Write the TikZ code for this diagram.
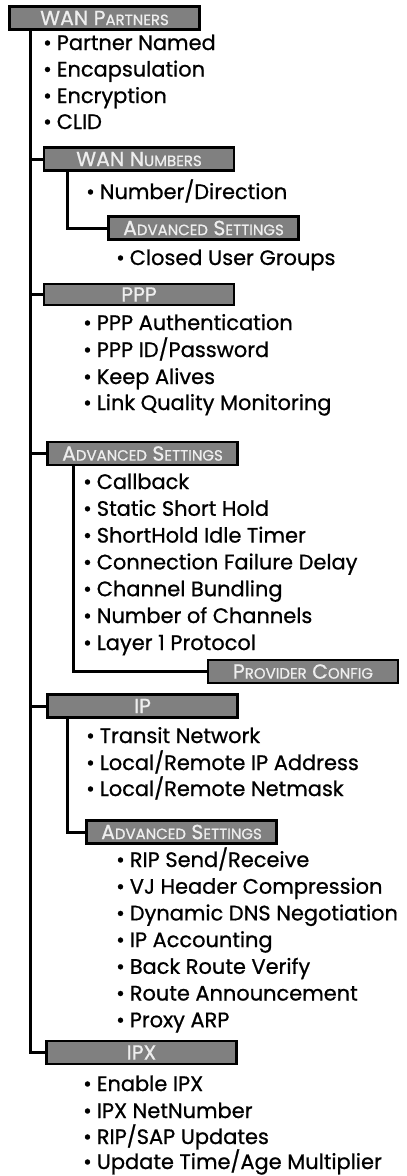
\documentclass[tikz,border=0pt]{standalone}
\usepackage{fontspec}
\setmainfont{Poppins}[FakeBold=0.8]
\definecolor{boxgray}{HTML}{808080}
\definecolor{headtxt}{HTML}{EEEEEE}
\newcommand{\sck}[1]{{\fontsize{15}{15}\selectfont #1}}
\tikzset{
  conn/.style={line width=3bp, black},
  hbox/.style={draw=black, line width=2.6bp, fill=boxgray, minimum width=190bp, minimum height=23bp, inner sep=0pt, text=headtxt, font=\fontsize{20.5}{20.5}\selectfont},
  item/.style={anchor=base west, inner sep=0pt, font=\fontsize{21}{21}\selectfont}
}
\newcommand{\bl}{•\hspace{5bp}}
\begin{document}
\begin{tikzpicture}[x=1bp,y=-1bp]
\useasboundingbox (0,0) rectangle (406,1176);
% boxes
\node[hbox] (wp)  at (104.5,18)  {WAN P\sck{ARTNERS}};
\node[hbox] (wn)  at (139,159)   {WAN N\sck{UMBERS}};
\node[hbox] (as1) at (203.5,228) {A\sck{DVANCED} S\sck{ETTINGS}};
\node[hbox, minimum height=21bp] (ppp) at (139,294.5) {PPP};
\node[hbox] (as2) at (142.5,453.5) {A\sck{DVANCED} S\sck{ETTINGS}};
\node[hbox] (pc)  at (303,671.5) {P\sck{ROVIDER} C\sck{ONFIG}};
\node[hbox] (ip)  at (142.5,706) {IP};
\node[hbox] (as3) at (181.5,832) {A\sck{DVANCED} S\sck{ETTINGS}};
\node[hbox] (ipx) at (141.5,1052.5) {IPX};
% trunk coordinates
\coordinate (t)  at (30,0);
\coordinate (s1) at (67,0);
\coordinate (s2) at (73,0);
\coordinate (s3) at (67,0);
% connectors
\draw[conn] (wp.south -| t) |- (ipx.west);
\draw[conn] (wn.west) -- (wn.west -| t);
\draw[conn] (ppp.west) -- (ppp.west -| t);
\draw[conn] (as2.west) -- (as2.west -| t);
\draw[conn] (ip.west) -- (ip.west -| t);
\draw[conn] (wn.south -| s1) |- (as1.west);
\draw[conn] (as2.south -| s2) |- (pc.west);
\draw[conn] (ip.south -| s3) |- (as3.west);
% items
\node[item] (a1) at (43,50)  {\bl Partner Named};
\node[item] (a2) at (43,76.5) {\bl Encapsulation};
\node[item] (a3) at (43,103) {\bl Encryption};
\node[item] (a4) at (43,129) {\bl CLID};
\node[item] (b1) at (86,199) {\bl Number/Direction};
\node[item] (c1) at (116,265) {\bl Closed User Groups};
\node[item] (d1) at (83,330) {\bl PPP Authentication};
\node[item] (d2) at (83,357) {\bl PPP ID/Password};
\node[item] (d3) at (83,384) {\bl Keep Alives};
\node[item] (d4) at (83,410) {\bl Link Quality Monitoring};
\node[item] (e1) at (83,489) {\bl Callback};
\node[item] (e2) at (83,515.8) {\bl Static Short Hold};
\node[item] (e3) at (83,542.6) {\bl ShortHold Idle Timer};
\node[item] (e4) at (83,569.4) {\bl Connection Failure Delay};
\node[item] (e5) at (83,596.2) {\bl Channel Bundling};
\node[item] (e6) at (83,623) {\bl Number of Channels};
\node[item] (e7) at (83,650) {\bl Layer 1 Protocol};
\node[item] (f1) at (86,743) {\bl Transit Network};
\node[item] (f2) at (86,770) {\bl Local/Remote IP Address};
\node[item] (f3) at (86,796) {\bl Local/Remote Netmask};
\node[item] (g1) at (116,867) {\bl RIP Send/Receive};
\node[item] (g2) at (116,893.7) {\bl VJ Header Compression};
\node[item] (g3) at (116,920.4) {\bl Dynamic DNS Negotiation};
\node[item] (g4) at (116,947.1) {\bl IP Accounting};
\node[item] (g5) at (116,973.8) {\bl Back Route Verify};
\node[item] (g6) at (116,1000.5) {\bl Route Announcement};
\node[item] (g7) at (116,1027.2) {\bl Proxy ARP};
\node[item] (h1) at (83,1091) {\bl Enable IPX};
\node[item] (h2) at (83,1118) {\bl IPX NetNumber};
\node[item] (h3) at (83,1144) {\bl RIP/SAP Updates};
\node[item] (h4) at (83,1169) {\bl Update Time/Age Multiplier};
\end{tikzpicture}
\end{document}
